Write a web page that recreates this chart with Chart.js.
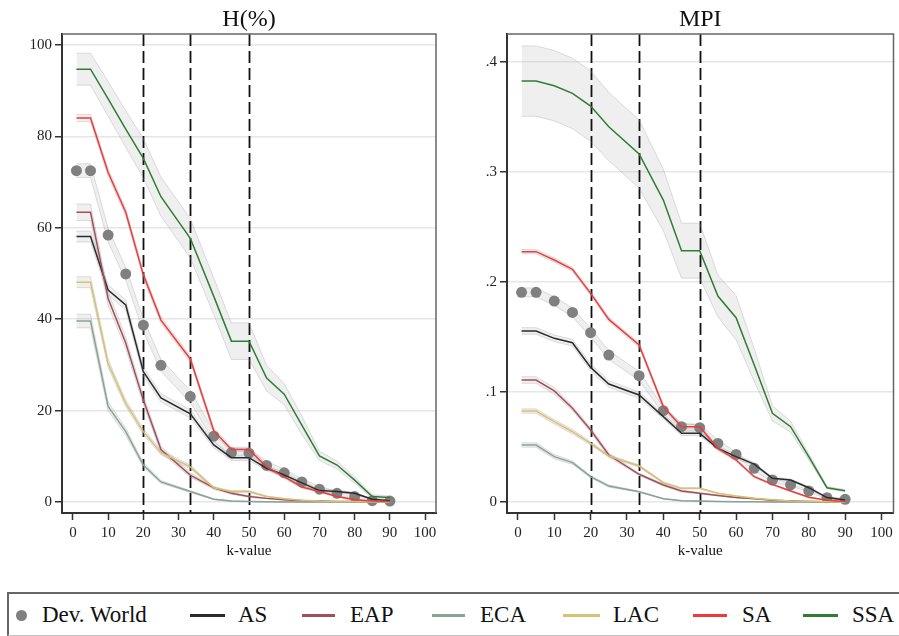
<!DOCTYPE html>
<html>
<head>
<meta charset="utf-8">
<script src="https://cdn.jsdelivr.net/npm/chart.js@4.4.0/dist/chart.umd.min.js"></script>
<style>
  body { margin: 0; background: #fff; width: 899px; height: 636px; overflow: hidden; position: relative; font-family: "Liberation Serif", "Times New Roman", serif; }
  #left { position: absolute; left: 0; top: 0; }
  #right { position: absolute; left: 450px; top: 0; }
  #legendBox { position: absolute; left: 7px; top: 592px; width: 900px; height: 41px; border-top: 2px solid #666; border-left: 2px solid #666; border-bottom: 1px solid #c4c4c4; }
  .lg-text { position: absolute; top: 602px; height: 26px; line-height: 26px; font-size: 23px; color: #111; white-space: nowrap; font-family: "Liberation Serif", "Times New Roman", serif; }
  .lg-line { position: absolute; top: 614px; height: 3px; }
  .lg-dot { position: absolute; width: 11px; height: 11px; border-radius: 50%; }
</style>
</head>
<body>
<canvas id="left" width="450" height="570"></canvas>
<canvas id="right" width="449" height="570"></canvas>
<div id="legendBox"></div>

<script>
// k values on the x axis
const kValues = [1, 5, 10, 15, 20, 25, 33.33, 40, 45, 50, 55, 60, 65, 70, 75, 80, 85, 90];
const refLines = [20, 33.33, 50];
const xTicks = [0, 10, 20, 30, 40, 50, 60, 70, 80, 90, 100];
const hTicks = [0, 20, 40, 60, 80, 100];
const mpiTicks = [0, 0.1, 0.2, 0.3, 0.4];

const seriesNames = ['Dev. World', 'AS', 'EAP', 'ECA', 'LAC', 'SA', 'SSA'];
const seriesColors = ['#808080', '#2b2b2b', '#a14f58', '#87a596', '#d8c170', '#f03a3a', '#2f7d34'];

// H(%) panel
const hDev = [72.5, 72.5, 58.4, 49.9, 38.7, 29.9, 23.1, 14.4, 10.8, 10.7, 8.0, 6.4, 4.4, 2.8, 1.9, 1.2, 0.3, 0.2];
const hAS  = [58.1, 58.1, 46.4, 43.1, 28.5, 22.8, 19.3, 12.5, 9.7, 9.7, 7.4, 5.9, 4.2, 2.5, 2.3, 1.9, 0.6, 0.3];
const hEAP = [63.4, 63.4, 44.5, 34.8, 22.3, 11.5, 5.9, 3.1, 1.9, 1.2, 0.8, 0.5, 0.3, 0.2, 0.1, 0.1, 0.05, 0];
const hECA = [39.6, 39.6, 20.9, 15.4, 8.1, 4.4, 2.3, 0.6, 0.2, 0.1, 0.05, 0.03, 0.02, 0.01, 0, 0, 0, 0];
const hLAC = [48.1, 48.1, 30.3, 21.6, 15.4, 10.8, 7.7, 3.1, 2.3, 2.3, 1.2, 0.7, 0.4, 0.2, 0.1, 0.1, 0.05, 0];
const hSA  = [84.0, 84.0, 72.1, 63.4, 49.7, 39.8, 31.3, 15.6, 11.5, 11.5, 7.7, 5.5, 3.3, 2.3, 1.2, 0.5, 0.2, 0.1];
const hSSA = [94.7, 94.7, 88.2, 81.6, 75.2, 66.8, 57.7, 45.0, 35.2, 35.2, 27.1, 23.6, 16.8, 10.1, 8.1, 4.8, 1.2, 1.0];

// H(%) confidence half-widths
const hDevBand = [1.5, 1.5, 1.5, 1.4, 1.4, 1.3, 1.3, 1.1, 1.0, 1.0, 0.9, 0.8, 0.7, 0.6, 0.5, 0.4, 0.3, 0.2];
const hASBand  = [1.2, 1.2, 1.1, 1.1, 1.0, 0.9, 0.9, 0.7, 0.6, 0.6, 0.5, 0.5, 0.4, 0.3, 0.3, 0.2, 0.1, 0.1];
const hEAPBand = [1.8, 1.8, 1.5, 1.3, 1.0, 0.7, 0.5, 0.3, 0.2, 0.2, 0.1, 0.1, 0.1, 0.1, 0, 0, 0, 0];
const hECABand = [1.5, 1.5, 1.0, 0.8, 0.5, 0.3, 0.2, 0.1, 0.1, 0, 0, 0, 0, 0, 0, 0, 0, 0];
const hLACBand = [1.2, 1.2, 0.9, 0.7, 0.6, 0.5, 0.4, 0.2, 0.2, 0.2, 0.1, 0.1, 0, 0, 0, 0, 0, 0];
const hSABand  = [0.8, 0.8, 0.8, 0.8, 0.8, 0.7, 0.7, 0.6, 0.5, 0.5, 0.4, 0.3, 0.3, 0.2, 0.1, 0.1, 0, 0];
const hSSABand = [3.5, 3.5, 3.8, 4.0, 4.3, 4.3, 4.3, 4.0, 4.0, 4.0, 2.8, 2.3, 2.0, 1.0, 0.9, 0.7, 0.4, 0.3];

// MPI panel
const mDev = [0.1906, 0.1906, 0.1827, 0.1724, 0.1539, 0.1336, 0.1148, 0.083, 0.0685, 0.0676, 0.0533, 0.0433, 0.0306, 0.020, 0.0155, 0.010, 0.0039, 0.0024];
const mAS  = [0.1555, 0.1555, 0.1488, 0.1448, 0.1224, 0.1073, 0.0973, 0.0776, 0.0624, 0.0624, 0.0488, 0.0412, 0.0345, 0.0215, 0.020, 0.013, 0.004, 0.0018];
const mEAP = [0.1109, 0.1109, 0.101, 0.0852, 0.0655, 0.0427, 0.0252, 0.0155, 0.010, 0.0079, 0.006, 0.004, 0.003, 0.0015, 0.001, 0.0005, 0.0003, 0.0001];
const mECA = [0.0518, 0.0518, 0.0412, 0.0358, 0.023, 0.0145, 0.0094, 0.003, 0.0012, 0.0008, 0.0005, 0.0003, 0.0002, 0.0001, 0, 0, 0, 0];
const mLAC = [0.0827, 0.0827, 0.073, 0.0639, 0.0533, 0.0418, 0.0327, 0.0176, 0.0124, 0.0124, 0.0079, 0.0055, 0.0035, 0.002, 0.001, 0.0006, 0.0003, 0.0001];
const mSA  = [0.2276, 0.2276, 0.220, 0.2115, 0.1897, 0.166, 0.1427, 0.0867, 0.0685, 0.0685, 0.0488, 0.0382, 0.023, 0.016, 0.010, 0.0043, 0.0015, 0.0005];
const mSSA = [0.3827, 0.3827, 0.3785, 0.3715, 0.360, 0.3412, 0.3164, 0.2745, 0.2285, 0.2285, 0.1873, 0.1676, 0.1245, 0.0806, 0.0685, 0.0412, 0.013, 0.0103];

// MPI confidence half-widths
const mDevBand = [0.004, 0.004, 0.004, 0.004, 0.004, 0.004, 0.004, 0.003, 0.003, 0.003, 0.003, 0.002, 0.002, 0.002, 0.001, 0.001, 0.001, 0.001];
const mASBand  = [0.003, 0.003, 0.003, 0.003, 0.003, 0.003, 0.003, 0.002, 0.002, 0.002, 0.002, 0.002, 0.001, 0.001, 0.001, 0.001, 0.0005, 0.0005];
const mEAPBand = [0.003, 0.003, 0.003, 0.002, 0.002, 0.002, 0.001, 0.001, 0.001, 0.0005, 0.0005, 0, 0, 0, 0, 0, 0, 0];
const mECABand = [0.002, 0.002, 0.002, 0.0015, 0.001, 0.001, 0.0005, 0.0003, 0, 0, 0, 0, 0, 0, 0, 0, 0, 0];
const mLACBand = [0.002, 0.002, 0.002, 0.002, 0.0015, 0.001, 0.001, 0.0008, 0.0005, 0.0005, 0.0003, 0, 0, 0, 0, 0, 0, 0];
const mSABand  = [0.002, 0.002, 0.002, 0.002, 0.002, 0.002, 0.002, 0.002, 0.002, 0.002, 0.0015, 0.0015, 0.001, 0.001, 0.0005, 0.0005, 0, 0];
const mSSABand = [0.032, 0.032, 0.032, 0.032, 0.032, 0.031, 0.031, 0.028, 0.025, 0.025, 0.019, 0.02, 0.015, 0.007, 0.005, 0.003, 0.001, 0.001];

const serif = "'Liberation Serif', 'Times New Roman', serif";
Chart.defaults.font.family = serif;
Chart.defaults.font.size = 15;
Chart.defaults.color = '#222';

// frame, titles and the dashed k = 20 / 33 / 50 markers
const panelDeco = {
  id: 'panelDeco',
  beforeDatasetsDraw(chart, args, opts) {
    const { ctx, chartArea: a, scales: { x } } = chart;
    ctx.save();
    ctx.strokeStyle = '#111';
    ctx.lineWidth = 1.8;
    ctx.setLineDash([12, 5]);
    refLines.forEach(v => {
      const px = Math.round(x.getPixelForValue(v)) + 0.5;
      ctx.beginPath();
      ctx.moveTo(px, a.top);
      ctx.lineTo(px, a.bottom);
      ctx.stroke();
    });
    ctx.restore();
  },
  afterDraw(chart, args, opts) {
    const { ctx, chartArea: a } = chart;
    ctx.save();
    ctx.strokeStyle = '#666';
    ctx.lineWidth = 1.5;
    ctx.beginPath();
    ctx.moveTo(a.left, a.top);
    ctx.lineTo(a.right, a.top);
    ctx.lineTo(a.right, a.bottom);
    ctx.stroke();
    const cx = (a.left + a.right) / 2;
    ctx.fillStyle = '#111';
    ctx.textAlign = 'center';
    ctx.textBaseline = 'alphabetic';
    ctx.font = '24px ' + serif;
    ctx.fillText(opts.title, cx, 26);
    ctx.font = '15px ' + serif;
    ctx.fillText('k-value', cx, 555);
    ctx.restore();
  }
};

function makePanel(canvas, title, values, bands, yTicks, yMin, yMax, xMin, xMax, yWidth, rightPad, fmt) {
  const datasets = [];
  values.forEach((vals, i) => {
    const lo = kValues.map((k, j) => ({ x: k, y: vals[j] - bands[i][j] }));
    const hi = kValues.map((k, j) => ({ x: k, y: vals[j] + bands[i][j] }));
    datasets.push({ data: lo, borderColor: 'rgba(150,150,150,0.3)', borderWidth: 1, pointRadius: 0, fill: false, order: 100 });
    datasets.push({ data: hi, borderColor: 'rgba(150,150,150,0.3)', borderWidth: 1, pointRadius: 0, fill: '-1', backgroundColor: 'rgba(175,175,175,0.2)', order: 100 });
  });
  values.forEach((vals, i) => {
    const pts = kValues.map((k, j) => ({ x: k, y: vals[j] }));
    if (i === 0) {
      datasets.push({ label: seriesNames[i], data: pts, showLine: false, pointRadius: 5.5, pointBackgroundColor: seriesColors[i], pointBorderWidth: 0, order: 60 });
    } else {
      datasets.push({ label: seriesNames[i], data: pts, borderColor: seriesColors[i], borderWidth: 1.5, pointRadius: 0, fill: false, order: 60 - i });
    }
  });

  return new Chart(canvas, {
    type: 'line',
    data: { datasets },
    options: {
      responsive: false,
      animation: false,
      devicePixelRatio: 1,
      layout: { padding: { left: 0, top: 34, right: rightPad, bottom: 0 } },
      plugins: {
        legend: { display: false },
        tooltip: { enabled: false },
        filler: { propagate: false, drawTime: 'beforeDatasetsDraw' },
        panelDeco: { title }
      },
      scales: {
        x: {
          type: 'linear', min: xMin, max: xMax,
          afterBuildTicks: s => { s.ticks = xTicks.map(v => ({ value: v })); },
          afterFit: s => { s.height = 57; },
          grid: { drawOnChartArea: false, drawTicks: true, tickLength: 7, tickColor: '#333', tickWidth: 1.5 },
          border: { display: true, color: '#333', width: 2 },
          ticks: { padding: 4, maxRotation: 0, autoSkip: false, color: '#222', font: { family: serif, size: 15 } }
        },
        y: {
          type: 'linear', min: yMin, max: yMax,
          afterBuildTicks: s => { s.ticks = yTicks.map(v => ({ value: v })); },
          afterFit: s => { s.width = yWidth; },
          grid: { color: '#e6e6e6', lineWidth: 1.5, tickLength: 7, tickColor: '#333', tickWidth: 1.5 },
          border: { display: true, color: '#333', width: 2 },
          ticks: { padding: 3, color: '#222', font: { family: serif, size: 15 }, callback: fmt }
        }
      }
    },
    plugins: [panelDeco]
  });
}

makePanel(document.getElementById('left'), 'H(%)',
  [hDev, hAS, hEAP, hECA, hLAC, hSA, hSSA],
  [hDevBand, hASBand, hEAPBand, hECABand, hLACBand, hSABand, hSSABand],
  hTicks, -2.4, 102.4, -3.1, 103.1, 62, 14, v => String(v));

makePanel(document.getElementById('right'), 'MPI',
  [mDev, mAS, mEAP, mECA, mLAC, mSA, mSSA],
  [mDevBand, mASBand, mEAPBand, mECABand, mLACBand, mSABand, mSSABand],
  mpiTicks, -0.01, 0.4255, -3.0, 103.3, 57, 4, v => v === 0 ? '0' : String(+v.toFixed(1)).replace(/^0/, ''));

// legend along the bottom
const legendText = [42, 238, 350, 480, 613, 742, 852];
const legendLine = [null, [190, 225], [302, 335], [432, 465], [563, 600], [693, 727], [803, 838]];
seriesNames.forEach((name, i) => {
  if (i === 0) {
    const d = document.createElement('div');
    d.className = 'lg-dot';
    d.style.left = '16px';
    d.style.top = '610px';
    d.style.background = seriesColors[0];
    document.body.appendChild(d);
  } else {
    const l = document.createElement('div');
    l.className = 'lg-line';
    l.style.left = legendLine[i][0] + 'px';
    l.style.width = (legendLine[i][1] - legendLine[i][0]) + 'px';
    l.style.background = seriesColors[i];
    document.body.appendChild(l);
  }
  const t = document.createElement('div');
  t.className = 'lg-text';
  t.style.left = legendText[i] + 'px';
  t.textContent = name;
  document.body.appendChild(t);
});
</script>
</body>
</html>
